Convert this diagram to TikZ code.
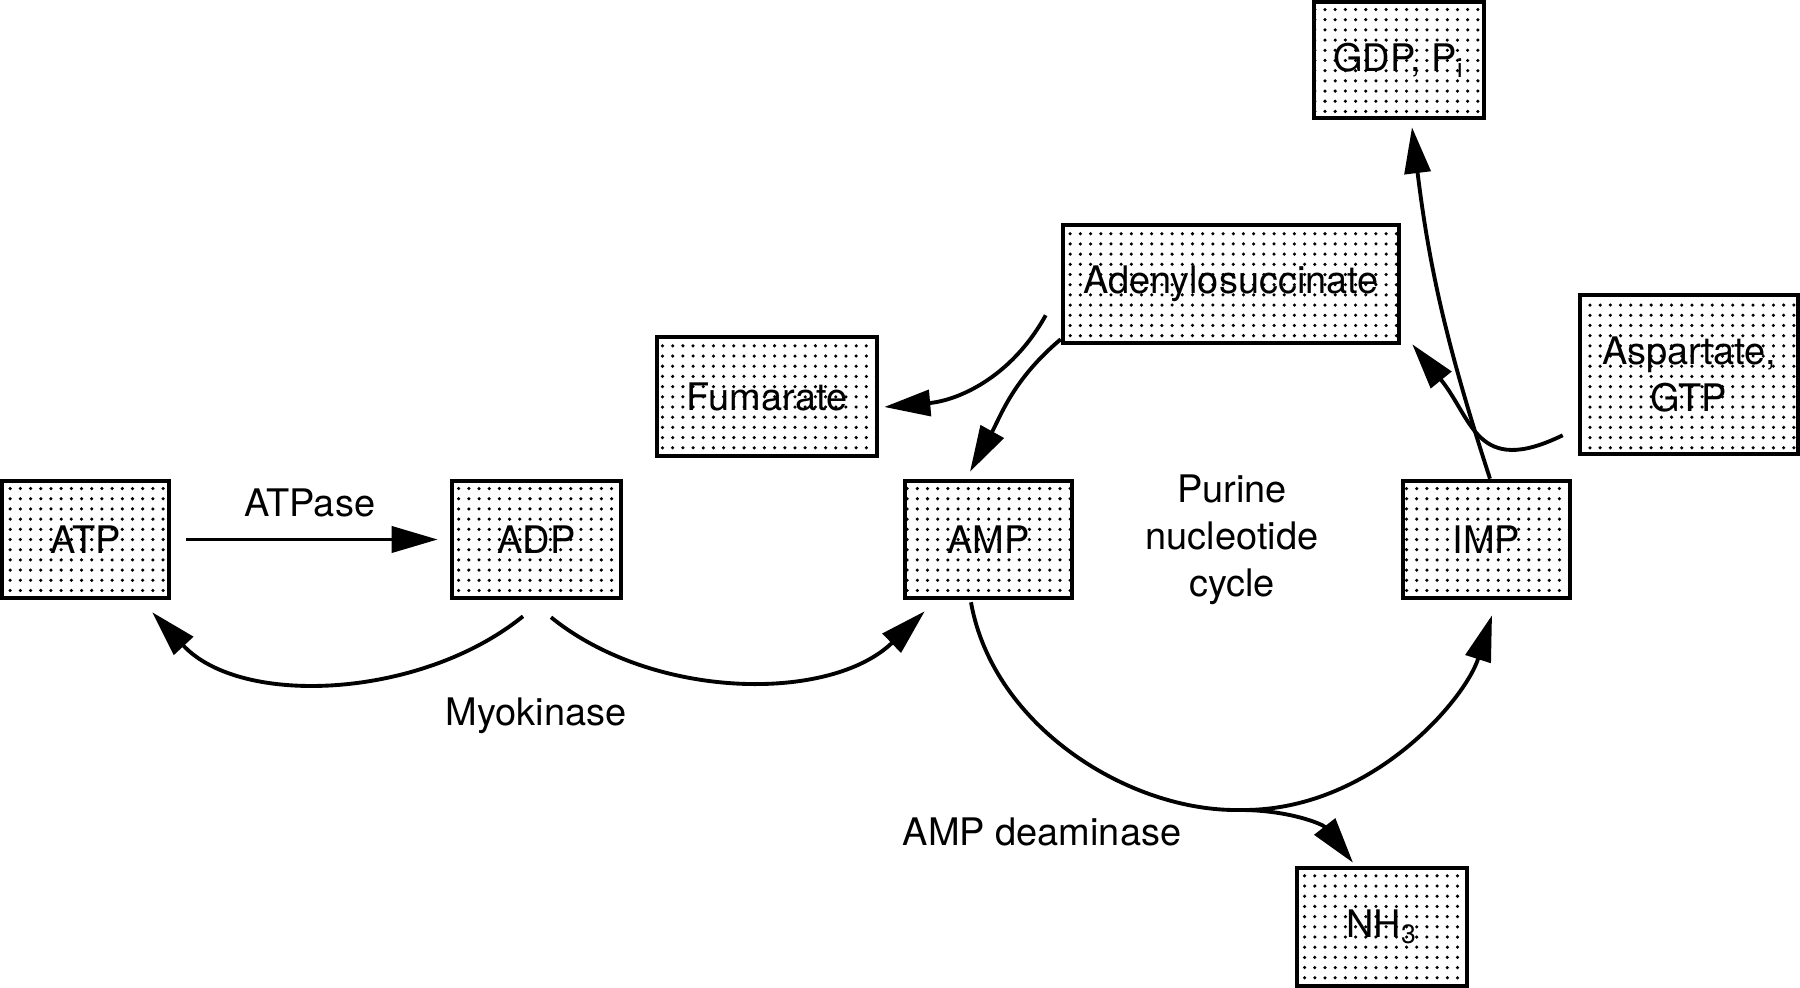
\documentclass[tikz,border=0pt]{standalone}
\usepackage{fontspec}
\setmainfont{TeX Gyre Heros}
\usetikzlibrary{arrows.meta,patterns.meta}

\tikzdeclarepattern{
  name=boxdots,
  type=uncolored,
  bottom left={(-.8pt,-.8pt)},
  top right={(.8pt,.8pt)},
  tile size={(2.9pt,2.9pt)},
  code={\fill (0pt,0pt) circle (.5pt);}
}

\begin{document}
\begin{tikzpicture}[font=\fontsize{10.8pt}{13.4pt}\selectfont]
    \tikzstyle{box_style} = [draw=black, line width=1.3pt, rectangle, pattern=boxdots, pattern color=black, inner sep=0pt, minimum width=1.67cm, minimum height=1.17cm, align=center]
    \tikzstyle{arrow_style} = [-{Triangle[length=4.6mm,width=2.6mm]}, black, line width=1.1pt]

    \useasboundingbox (0,0) rectangle (18,-9.88);

    \node[box_style] (atp) at (0.855,-5.395) {ATP};
    \node[box_style, minimum width=1.69cm] (adp) at (5.365,-5.395) {ADP};
    \node[box_style] (amp) at (9.885,-5.395) {AMP};
    \node[box_style] (imp) at (14.865,-5.395) {IMP};
    \node[box_style, minimum width=2.20cm, minimum height=1.19cm] (fum) at (7.67,-3.965) {Fumarate};
    \node[box_style, minimum width=3.36cm, minimum height=1.18cm] (adeno) at (12.31,-2.84) {Adenylosuccinate};
    \node[box_style, minimum width=1.70cm, minimum height=1.16cm] (gdp) at (13.99,-0.60) {GDP, P\textsubscript{i}};
    \node[box_style, minimum width=2.18cm, minimum height=1.59cm] (asp) at (16.89,-3.745) {Aspartate,\\GTP};
    \node[box_style, minimum width=1.70cm, minimum height=1.18cm] (nh3) at (13.82,-9.27) {NH\textsubscript{3}};

    \node (atpase) at (3.10,-5.03) {ATPase};
    \node (myo) at (5.36,-7.16) {Myokinase};
    \node[align=center] (pnc) at (12.32,-5.40) {Purine\\nucleotide\\cycle};
    \node (deam_lbl) at (10.42,-8.32) {AMP deaminase};

    \coordinate (deam) at (12.40,-8.10);

    \draw[arrow_style, shorten <=0.15cm, shorten >=0.12cm] (atp) -- (adp);
    \draw[arrow_style] ([xshift=-0.135cm,yshift=-0.16cm]adp.south) to[out=-141,in=-47,looseness=0.9] ([xshift=-0.19cm,yshift=-0.12cm]atp.south east);
    \draw[arrow_style] ([xshift=0.145cm,yshift=-0.17cm]adp.south) to[out=-39,in=-136,looseness=0.9] ([xshift=0.22cm,yshift=-0.11cm]amp.south west);
    \draw[arrow_style] ([xshift=-0.15cm,yshift=0.30cm]adeno.south west) to[out=-119,in=5] ([xshift=0.05cm,yshift=-0.105cm]fum.east);
    \draw[arrow_style] ([yshift=0.06cm]adeno.south west) to[out=-140,in=61] ([xshift=-0.185cm,yshift=0.07cm]amp.north);
    \draw[arrow_style] ([xshift=-0.175cm,yshift=-0.02cm]amp.south) .. controls (9.93,-7.27) and (11.30,-8.12) .. (deam) .. controls (13.70,-8.12) and (14.65,-7.00) .. ([xshift=0.055cm,yshift=-0.15cm]imp.south);
    \draw[arrow_style] (deam) to[out=0,in=128] ([xshift=-0.29cm,yshift=0.03cm]nh3.north);
    \draw[arrow_style] ([xshift=0.035cm]imp.north) to[out=108,in=-83] ([xshift=0.13cm,yshift=-0.07cm]gdp.south);
    \draw[arrow_style] ([xshift=-0.15cm,yshift=0.21cm]asp.south west) to[out=-154,in=-51,looseness=1.4] ([xshift=0.11cm,yshift=0.01cm]adeno.south east);
\end{tikzpicture}
\end{document}
